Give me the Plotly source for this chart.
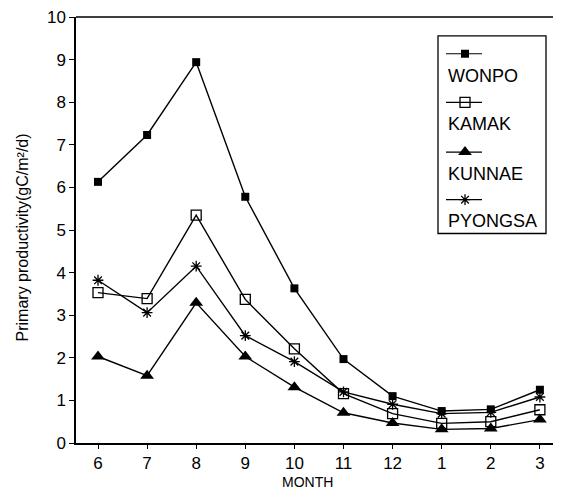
import plotly.graph_objects as go

months = ["6", "7", "8", "9", "10", "11", "12", "1", "2", "3"]
wonpo = [6.13, 7.23, 8.94, 5.78, 3.63, 1.97, 1.10, 0.75, 0.79, 1.25]
kamak = [3.53, 3.39, 5.35, 3.37, 2.21, 1.16, 0.69, 0.46, 0.50, 0.78]
kunnae = [2.03, 1.58, 3.29, 2.03, 1.31, 0.71, 0.47, 0.32, 0.34, 0.55]
pyongsa = [3.82, 3.06, 4.15, 2.52, 1.91, 1.20, 0.91, 0.69, 0.72, 1.08]
series_names = ["WONPO", "KAMAK", "KUNNAE", "PYONGSA"]

# page body has an 8px margin; positions below are window pixels
OFF = 8
PX_LEFT, PX_TOP, PX_BOTTOM, PX_RIGHT = 76, 14, 443, 561
W, H = PX_RIGHT - OFF, 491 - OFF
PW, PH = PX_RIGHT - PX_LEFT, PX_BOTTOM - PX_TOP
L, T = PX_LEFT - OFF, PX_TOP - OFF
B = H - T - PH
FONT = "Liberation Sans, Arial, sans-serif"


def px(xw):
    return (xw - PX_LEFT) / PW


def py(yw):
    return (PX_BOTTOM - yw) / PH


styles = {
    "WONPO": dict(symbol="square", size=8, color="black", line=dict(width=0)),
    "KAMAK": dict(symbol="square-open", size=10, color="black", line=dict(width=1.3)),
    "KUNNAE": dict(symbol="triangle-up", size=12, color="black", line=dict(width=0)),
    "PYONGSA": dict(symbol="asterisk-open", size=9, color="black", line=dict(width=1.3, color="black")),
}

fig = go.Figure()
x_idx = list(range(len(months)))
for name, vals in zip(series_names, [wonpo, kamak, kunnae, pyongsa]):
    fig.add_trace(go.Scatter(
        x=x_idx, y=vals, mode="lines+markers", name=name,
        line=dict(color="black", width=1.4),
        marker=styles[name], showlegend=False,
    ))

# custom legend (symbol sample above label), drawn in pixel-like overlay axes
leg_left, leg_top, leg_right, leg_bottom = 438, 33, 546, 232
sample_y = [51, 100, 150, 198]
text_y = [73, 122, 172, 219]
for name, sy, ty in zip(series_names, sample_y, text_y):
    fig.add_trace(go.Scatter(
        x=[446 - PX_LEFT, 482 - PX_LEFT], y=[sy - PX_TOP, sy - PX_TOP], mode="lines",
        line=dict(color="black", width=1.2), xaxis="x2", yaxis="y2",
        showlegend=False, hoverinfo="skip"))
    fig.add_trace(go.Scatter(
        x=[465 - PX_LEFT], y=[sy - PX_TOP], mode="markers", marker=styles[name],
        xaxis="x2", yaxis="y2", showlegend=False, hoverinfo="skip"))
    fig.add_annotation(
        x=px(446), y=py(ty), xref="paper", yref="paper",
        text=name, showarrow=False, xanchor="left", yanchor="middle",
        font=dict(family=FONT, size=18, color="black"))

fig.add_shape(type="rect", xref="paper", yref="paper",
              x0=px(leg_left), x1=px(leg_right),
              y0=py(leg_bottom), y1=py(leg_top),
              line=dict(color="black", width=1.3))
# top frame line
fig.add_shape(type="line", xref="paper", yref="paper",
              x0=0, x1=px(556), y0=1, y1=1,
              line=dict(color="black", width=1.5))

fig.add_annotation(
    x=px(22), y=py(236), xref="paper", yref="paper",
    text="Primary productivity(gC/m²/d)", textangle=-90, showarrow=False,
    xanchor="center", yanchor="middle",
    font=dict(family=FONT, size=16, color="black"))
fig.add_annotation(
    x=px(307), y=py(482), xref="paper", yref="paper",
    text="MONTH", showarrow=False, xanchor="center", yanchor="middle",
    font=dict(family=FONT, size=14, color="black"))

fig.update_layout(
    width=W, height=H,
    margin=dict(l=L, r=0, t=T, b=B),
    paper_bgcolor="white", plot_bgcolor="white",
    font=dict(family=FONT, color="black"),
    xaxis=dict(
        range=[-0.448, 9.43], tickmode="array", tickvals=x_idx, ticktext=months,
        showgrid=False, zeroline=False, showline=True, linecolor="black", linewidth=1.5,
        ticks="outside", ticklen=4, tickcolor="black", tickwidth=1.2,
        tickfont=dict(family=FONT, size=17, color="black"),
        ticklabeloverflow="allow",
    ),
    yaxis=dict(
        range=[0, 10], tickmode="linear", tick0=0, dtick=1,
        showgrid=False, zeroline=False, showline=True, linecolor="black", linewidth=1.5,
        ticks="outside", ticklen=5, tickcolor="black", tickwidth=1.2,
        tickfont=dict(family=FONT, size=17, color="black"),
        ticklabeloverflow="allow",
    ),
    xaxis2=dict(overlaying="x", range=[0, PW], visible=False, fixedrange=True),
    yaxis2=dict(overlaying="y", range=[PH, 0], visible=False, fixedrange=True),
    showlegend=False,
)

fig.write_html("out.html")
